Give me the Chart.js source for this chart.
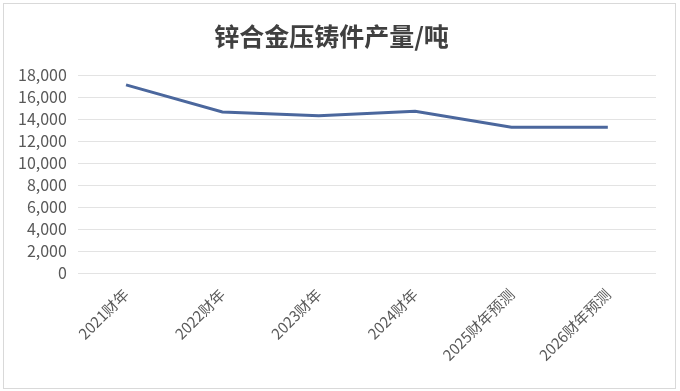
<!DOCTYPE html>
<html lang="zh">

<head>
  <meta charset="UTF-8">
  <title>锌合金压铸件产量</title>
  <script src="https://cdn.jsdelivr.net/npm/chart.js"></script>
</head>

<style>
  body {
    margin: 0;
    background: #ffffff;
  }

  .chartBox {
    position: absolute;
    left: 3px;
    top: 3px;
    width: 673px;
    height: 386px;
    border: 1px solid #d9d9d9;
    box-sizing: border-box;
  }
</style>

<body>
  <div class="chartBox">
    <canvas id="outputChart"></canvas>
  </div>

  <script>
    // data
    const years = ['2021财年', '2022财年', '2023财年', '2024财年', '2025财年预测', '2026财年预测'];
    const output = [17100, 14650, 14300, 14700, 13250, 13250];
    const yTicks = [0, 2000, 4000, 6000, 8000, 10000, 12000, 14000, 16000, 18000];

    Chart.defaults.font.family = "'Noto Sans CJK SC', 'Noto Sans', sans-serif";
    Chart.defaults.color = '#595959';

    const ctx = document.getElementById('outputChart');
    new Chart(ctx, {
      type: 'line',
      data: {
        labels: years,
        datasets: [{
          label: '产量',
          data: output,
          borderColor: '#4b679d',
          borderWidth: 3,
          pointRadius: 0,
          tension: 0,
          fill: false
        }]
      },
      options: {
        responsive: true,
        maintainAspectRatio: false,
        animation: false,
        layout: {
          padding: { left: 3, right: 19, top: 11, bottom: 20 }
        },
        plugins: {
          legend: { display: false },
          tooltip: { enabled: false },
          title: {
            display: true,
            text: '锌合金压铸件产量/吨',
            color: '#404040',
            font: { size: 25, weight: 'bold' },
            padding: { top: 6, bottom: 24 }
          }
        },
        scales: {
          x: {
            offset: true,
            grid: { display: false },
            border: { display: false },
            ticks: {
              minRotation: 45,
              maxRotation: 45,
              font: { size: 15 },
              padding: 4
            }
          },
          y: {
            min: 0,
            max: 18000,
            afterBuildTicks: axis => {
              axis.ticks = yTicks.map(v => ({ value: v }));
            },
            grid: { color: '#e3e3e3', drawTicks: false },
            border: { display: false },
            ticks: {
              autoSkip: false,
              font: { size: 16 },
              padding: 11,
              callback: v => v.toLocaleString('en-US')
            }
          }
        }
      }
    });
  </script>
</body>

</html>
